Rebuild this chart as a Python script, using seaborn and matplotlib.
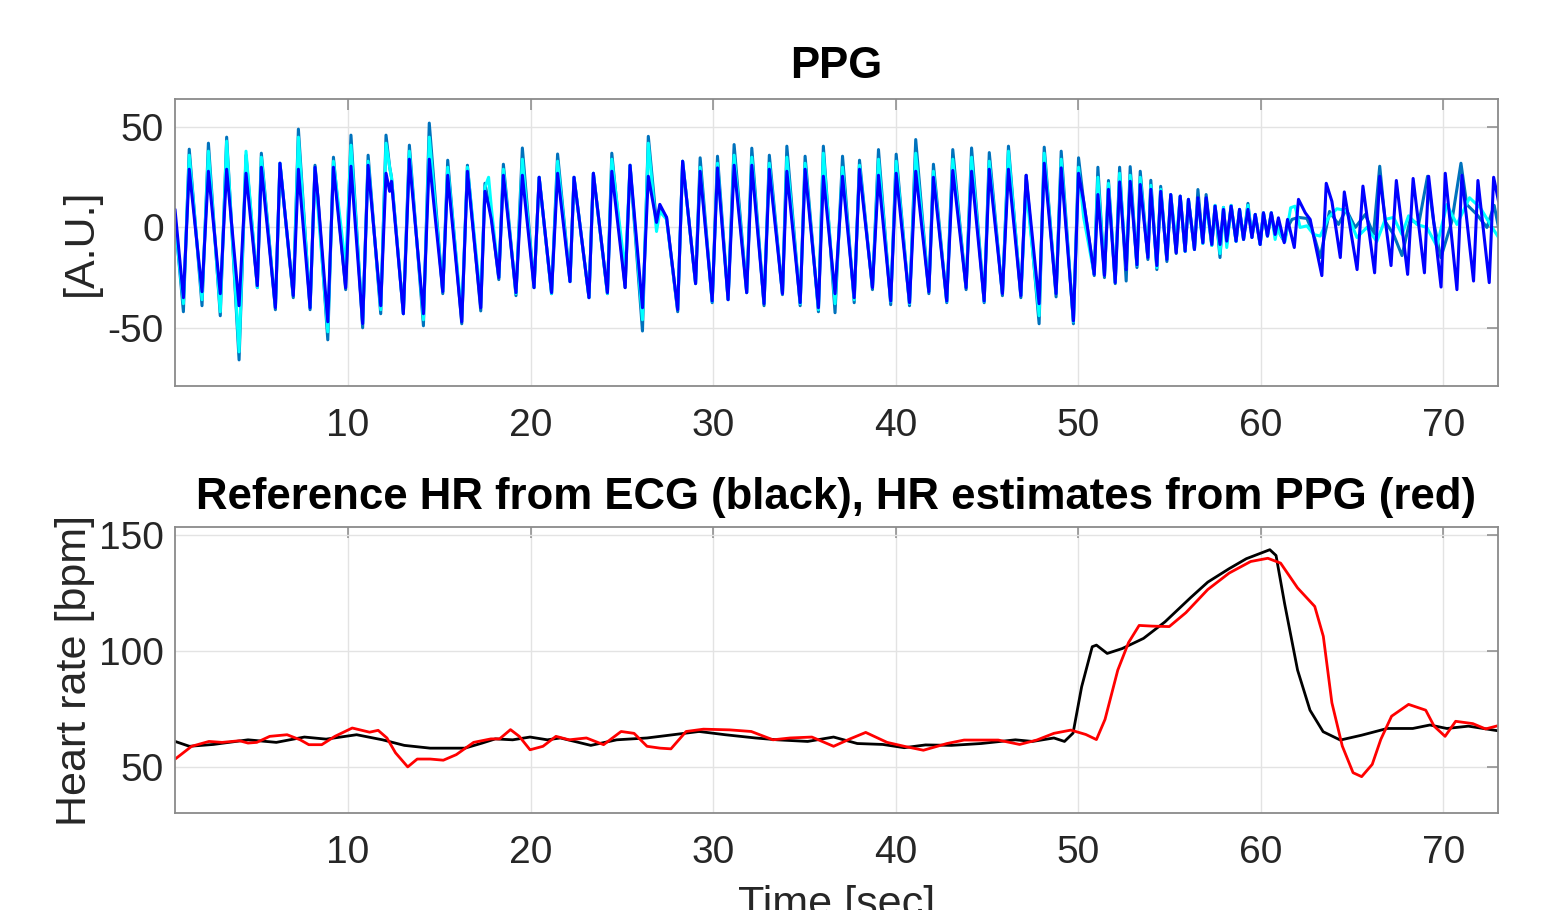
import numpy as np
import pandas as pd
import matplotlib
matplotlib.use("Agg")
import matplotlib.pyplot as plt
import seaborn as sns

# ---------------- PPG data (extrema) ----------------
# shared time points up to ~61 s
ppg_t = [0.52, 0.98, 1.30, 2.00, 2.35, 3.00, 3.35, 4.03, 4.41, 5.03, 5.25, 6.02, 6.27, 7.00, 7.28, 7.92,
         8.19, 8.35, 8.89, 9.20, 9.87, 10.16, 10.80, 11.10, 11.79, 12.08, 12.28, 12.38, 13.03, 13.36,
         14.13, 14.45, 15.19, 15.46, 16.23, 16.54, 17.27, 17.50, 17.70, 17.85, 18.26, 18.51, 19.20,
         19.55, 20.19, 20.47, 21.15, 21.48, 22.16, 22.38, 23.20, 23.44, 24.21, 24.45, 25.18, 25.45,
         26.13, 26.45, 26.90, 27.08, 27.45, 28.06, 28.33, 29.04, 29.29, 29.95, 30.24, 30.82, 31.15,
         31.84, 32.12, 32.79, 33.08, 33.80, 34.04, 34.77, 35.04, 35.77, 36.04, 36.68, 37.09, 37.73,
         38.02, 38.73, 39.06, 39.73, 40.03, 40.76, 41.10, 41.82, 42.07, 42.80, 43.13, 43.86, 44.16,
         44.85, 45.13, 45.85, 46.18, 46.86, 47.15, 47.86, 48.14, 48.79, 49.07, 49.74, 50.02, 50.30,
         50.88, 51.08, 51.44, 51.66, 52.03, 52.27, 52.63, 52.85, 53.22, 53.40, 53.82, 53.98, 54.31,
         54.52, 54.86, 55.07, 55.37, 55.59, 55.86, 56.04, 56.37, 56.56, 56.83, 57.01, 57.32, 57.50,
         57.77, 57.96, 58.14, 58.38, 58.65, 58.84, 59.06, 59.30, 59.52, 59.70, 59.97, 60.15, 60.37,
         60.58, 60.79, 60.97]
ppg_blue = [9, -35, 29, -32, 28, -33, 29, -39, 27, -29, 30, -40, 32, -34, 29, -40,
            30, 15, -47, 30, -30, 30.5, -48, 31, -39, 27, 18, 23, -43, 34,
            -43, 34, -32, 26, -47, 28, -40, 18, 11, 4, -25, 26, -32.5,
            26, -30, 25, -32.5, 27, -27, 25, -35, 27, -32.5, 28, -30, 31,
            -40, 25.5, 2.5, 11.5, 5, -41, 33, -28, 28, -36.7, 29.7, -36, 31,
            -32.5, 31, -38, 29, -33, 28, -37.5, 29, -40, 25.5, -33, 25.5, -35,
            29, -30, 26, -36.7, 27, -37.5, 28, -32, 25, -36.7, 28.4, -30, 28,
            -36.7, 29, -33, 29, -34, 26, -38, 32, -33, 29.7, -46.6, 27, 13,
            -23.4, 16.4, -24, 19, -27.5, 22.7, -21, 23, -18.7, 21.4, -15, 19, -19,
            18, -16, 16.4, -12.6, 15.6, -11.8, 14, -11, 14.8, -7.6, 14.8, -8.5, 10.6,
            -8.5, 9, -6.8, 10.6, -6.8, 9, -6, 9, -5, 6.5, -8.5, 7.3, -4.3,
            7.3, -3.5, 4.8]
ppg_steel = [5, -42, 39, -39, 42, -44, 45, -66, 36, -30, 37, -41, 32, -35, 49, -41,
             31, 15, -56, 35, -31, 46, -50, 36, -43, 46, 30, 25, -43, 41,
             -49, 52, -33, 33.5, -48, 31, -41.6, 22, 12, 6, -26, 31.5, -34,
             39.6, -30, 25, -33, 36.6, -27, 25, -35, 27, -33, 37, -30, 31,
             -51.6, 45.4, 2, 10, 5, -42, 33, -28, 34.7, -37.5, 35.5, -36, 41.3,
             -32.5, 39.5, -39, 36, -33.5, 40.5, -39, 35.5, -42, 40.5, -42.5, 35.5, -37.5,
             33.5, -31, 38.8, -38.5, 36.5, -39, 43.8, -33, 31.5, -37.5, 38.8, -31, 39.6,
             -37.5, 37.3, -34, 40.5, -35, 26, -48, 40, -34.6, 38, -48, 34.7, 13,
             -24, 30, -25, 23.4, -28, 30, -26.7, 30.3, -20, 28, -16, 23.5, -21,
             20.5, -17, 16.4, -13, 15.6, -12, 14, -11, 18.9, -8, 16.4, -9, 11,
             -15, 10, -8, 11, -7, 9, -6, 12, -5, 6.5, -8.5, 7.3, -4.3,
             7.3, -4, 3]
ppg_cyan = [3, -38, 36, -36, 38, -42, 43, -62, 38, -30, 35, -40, 32, -34, 45, -40,
            30, 10, -52, 33, -20, 41, -48, 33, -41, 42, 30, 25, -43, 38,
            -46, 45, -32, 30, -44, 30, -36, 20, 25, 10, -25, 29, -33,
            34, -30, 25, -33, 33, -27, 25, -35, 27, -33, 34, -22, 31,
            -46, 42, -2, 8, 4, -41, 33, -28, 30, -37, 32, -36, 36,
            -32.5, 35, -38, 32, -33, 35, -38, 32, -41, 37, -38, 30, -36,
            31, -30, 34, -37, 33, -38, 37, -32, 28, -37, 34, -30, 35,
            -37, 33, -33, 38, -34, 20, -44, 37, -33, 34, -47, 30, 5,
            -23.4, 25, -24, 22, -27.5, 27, -20, 26, -19, 25, -15, 21, -20,
            19, -16, 16.4, -8, 15.6, -12, 14, -11, 14, -8, 12, -9, 11,
            -13, 10, -10, 11, -7, 9, -6, 11, -5, 6.5, -8.5, 7.3, -4.3,
            7.3, -6, 2]

# after ~61 s the three traces diverge
blue_t2 = [61.29, 61.47, 61.84, 62.07, 62.44, 62.71, 63.35, 63.59, 63.90, 64.36, 64.58, 65.28, 65.60,
           66.24, 66.52, 67.14, 67.43, 68.05, 68.35, 68.97, 69.20, 69.88, 70.11, 70.75, 71.02, 71.66,
           71.90, 72.52, 72.76, 73.03]
blue_v2 = [-7.6, 4, -10, 14, 7.3, 4, -24, 22, 13, -15, 17.7, -21, 20.6,
           -22.6, 25.5, -19, 23.4, -23.4, 24.4, -22.6, 25.5, -29.7, 27, -31, 26, -26.7,
           23.4, -27.5, 25, 13]
steel_t2 = [61.07, 61.29, 61.47, 61.71, 62.07, 62.53, 62.90, 63.26, 63.77, 64.26, 64.68, 65.18, 65.73,
            66.18, 66.52, 66.82, 67.28, 67.74, 68.19, 68.65, 69.14, 69.47, 69.87, 70.47, 70.97, 71.29,
            71.84, 72.39, 72.79, 73.03]
steel_v2 = [-3.5, -7, 0, 4, 5, 4.5, -3.5, -15, 8, 1.5, 9, 0, 6.5,
            -3.5, 30.5, 3, -3.5, -14, 4, 1.5, 25.5, 3, -15, 3, 32, 11.4,
            6.5, 0, 11, 0]
cyan_t2 = [61.07, 61.33, 61.64, 61.88, 62.16, 62.53, 62.90, 63.26, 63.72, 64.17, 64.68, 65.27, 65.82,
           66.36, 66.82, 67.28, 67.74, 68.10, 68.56, 69.10, 69.65, 70.20, 70.75, 71.44, 72.03, 72.58,
           73.03]
cyan_v2 = [-3.5, -7, 9.8, 10.6, 0, 0.8, -3.5, -4.3, 5, 9.3, 8.5, -5, 0,
           -7, 4, 5, -3.5, 5.8, 1.5, 0, -9.3, 11.4, 1.5, 14.8, 9.8, 1.5,
           -5]

# ---------------- Heart rate data ----------------
ecg_t = [0.53, 1.31, 2.62, 4.52, 6.07, 7.61, 8.80, 10.47, 11.89, 13.08, 14.50, 16.40, 17.35, 18.07,
         19.02, 19.97, 20.92, 21.63, 23.30, 24.72, 26.38, 27.81, 29.23, 30.66, 32.32, 33.51, 35.18,
         36.60, 37.90, 39.30, 40.47, 41.64, 43.05, 44.68, 46.56, 47.50, 48.67, 49.25, 49.72, 50.19,
         50.77, 51.00, 51.59, 52.41, 53.58, 54.75, 56.16, 57.10, 58.27, 59.21, 60.50, 60.84, 61.31,
         62.02, 62.70, 63.42, 64.36, 65.53, 66.93, 68.33, 69.27, 70.20, 71.38, 73.00]
ecg_hr = [60.9, 58.8, 59.6, 61.6, 60.5, 62.8, 61.9, 63.8, 61.6, 59.2, 58.0, 58.0, 60.2, 62.0,
          61.6, 62.8, 61.6, 62.4, 59.2, 61.6, 62.4, 63.8, 65.2, 63.8, 62.4, 61.6, 60.9,
          62.8, 60.0, 59.6, 58.2, 59.4, 59.2, 60.0, 61.6, 60.9, 62.4, 60.9, 64.5, 84.5,
          101.8, 102.5, 98.9, 101.0, 105.4, 112.5, 123.0, 129.7, 135.5, 139.8, 143.7, 141.2, 120.4,
          91.7, 74.4, 65.1, 61.5, 63.6, 66.5, 66.5, 68.0, 66.5, 67.5, 65.5]
ppg_hr_t = [0.53, 1.43, 2.38, 3.10, 4.05, 4.52, 5.00, 5.71, 6.66, 7.38, 7.85, 8.56, 9.28, 10.23,
            11.18, 11.65, 12.13, 12.60, 13.27, 13.79, 14.50, 15.22, 15.93, 16.88, 17.83, 18.30,
            18.90, 19.38, 19.97, 20.68, 21.39, 22.11, 23.06, 24.00, 24.96, 25.67, 26.38, 27.10,
            27.69, 28.52, 29.47, 30.90, 32.09, 33.28, 34.22, 35.41, 36.60, 37.50, 38.36, 39.53,
            40.47, 41.52, 42.81, 43.75, 45.62, 46.79, 47.73, 48.67, 49.60, 50.42, 51.00, 51.47,
            52.17, 52.76, 53.34, 54.05, 54.99, 55.90, 57.10, 58.27, 59.45, 60.39, 61.09, 62.02,
            62.96, 63.43, 63.90, 64.47, 65.06, 65.53, 66.11, 66.58, 67.17, 68.10, 69.04, 69.50,
            70.10, 70.68, 71.62, 72.32, 73.00]
ppg_hr = [53.3, 58.8, 60.9, 60.5, 61.2, 60.2, 60.5, 63.1, 63.8, 61.6, 59.5, 59.5, 63.1, 66.7,
          64.9, 65.7, 62.4, 56.0, 49.9, 53.3, 53.3, 52.8, 55.2, 60.5, 62.0, 62.0,
          66.0, 63.1, 57.3, 58.8, 63.1, 61.6, 62.4, 59.5, 65.2, 64.4, 58.8, 58.0,
          57.7, 65.2, 66.2, 65.9, 65.2, 61.6, 62.4, 62.8, 58.8, 62.0, 64.8, 60.5,
          58.8, 57.1, 60.0, 61.5, 61.5, 59.6, 61.5, 64.4, 65.8, 63.9, 61.7, 70.4,
          91.7, 103.6, 111.0, 110.7, 110.5, 116.5, 126.5, 133.6, 138.6, 140.0, 137.9, 127.2,
          119.2, 106.3, 77.6, 58.9, 47.4, 45.7, 51.0, 61.8, 71.8, 76.9, 74.4, 67.5,
          63.1, 69.6, 68.6, 66.3, 67.7]

xticks = [10, 20, 30, 40, 50, 60, 70]
ppg_yticks = [-50, 0, 50]
hr_yticks = [50, 100, 150]

# ---------------- styling ----------------
sns.set_theme(style="white")
plt.rcParams["font.family"] = ["Liberation Sans", "DejaVu Sans"]
plt.rcParams["axes.unicode_minus"] = False
TXT = "#262626"
SPINE = "#8a8a8a"

fig = plt.figure(figsize=(15.49, 9.10), dpi=100)
ax1 = fig.add_axes([175 / 1549, 1 - 386 / 910, 1323 / 1549, 287 / 910])
ax2 = fig.add_axes([175 / 1549, 1 - 813 / 910, 1323 / 1549, 286 / 910])

steel_df = pd.DataFrame({"t": ppg_t + steel_t2, "v": ppg_steel + steel_v2})
cyan_df = pd.DataFrame({"t": ppg_t + cyan_t2, "v": ppg_cyan + cyan_v2})
blue_df = pd.DataFrame({"t": ppg_t + blue_t2, "v": ppg_blue + blue_v2})

for df, col in [(steel_df, "#0072BD"), (cyan_df, "#00FFFF"), (blue_df, "#0000FF")]:
    sns.lineplot(data=df, x="t", y="v", ax=ax1, color=col, lw=2.2, sort=False,
                 estimator=None, legend=False, solid_joinstyle="round", solid_capstyle="round")

sns.lineplot(x=ecg_t, y=ecg_hr, ax=ax2, color="black", lw=2.0, sort=False, estimator=None,
             solid_joinstyle="round")
sns.lineplot(x=ppg_hr_t, y=ppg_hr, ax=ax2, color="#FF0000", lw=2.0, sort=False, estimator=None,
             solid_joinstyle="round")

ax1.set_xlim(0.52, 73.0)
ax1.set_ylim(-79, 64)
ax2.set_xlim(0.52, 73.0)
ax2.set_ylim(30, 153.5)

for ax in (ax1, ax2):
    ax.set_xticks(xticks)
    ax.grid(True, color="#e3e3e3", lw=1.0)
    ax.set_axisbelow(True)
    for s in ax.spines.values():
        s.set_color(SPINE)
        s.set_linewidth(1.3)
        s.set_visible(True)
    ax.tick_params(direction="in", length=8, width=1.1, color=SPINE, top=True, right=True,
                   labelsize=28, labelcolor=TXT)
    ax.tick_params(axis="x", pad=16)
    ax.tick_params(axis="y", pad=8)

ax1.set_yticks(ppg_yticks)
ax2.set_yticks(hr_yticks)

ax1.set_xlabel("")
ax1.set_ylabel("[A.U.]", fontsize=31, color=TXT, labelpad=5)
ax2.set_ylabel("Heart rate [bpm]", fontsize=31, color=TXT, labelpad=3)
ax2.set_xlabel("Time [sec]", fontsize=31, color=TXT, labelpad=10)

ax1.set_title("PPG", fontsize=31.5, fontweight="bold", color="black", pad=15)
ax2.set_title("Reference HR from ECG (black), HR estimates from PPG (red)", fontsize=31.5,
              fontweight="bold", color="black", pad=13)

fig.savefig("out.png", dpi=100)
